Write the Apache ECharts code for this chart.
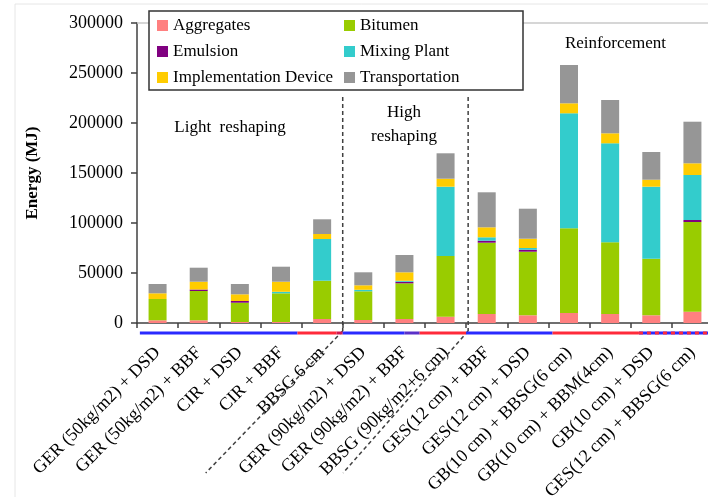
<!DOCTYPE html>
<html><head><meta charset="utf-8">
<script src="https://cdn.jsdelivr.net/npm/echarts@6/dist/echarts.min.js"></script>
<style>html,body{margin:0;padding:0;background:#fff}#c{width:708px;height:497px}</style>
</head><body><div id="c"></div>
<script>
const categories = [
  "GER (50kg/m2) + DSD", "GER (50kg/m2) + BBF", "CIR + DSD", "CIR + BBF", "BBSG 6 cm",
  "GER (90kg/m2) + DSD", "GER (90kg/m2) + BBF", "BBSG (90kg/m2+6 cm)",
  "GES(12 cm) + BBF", "GES(12 cm) + DSD", "GB(10 cm) + BBSG(6 cm)", "GB(10 cm) + BBM(4cm)",
  "GB(10 cm) + DSD", "GES(12 cm) + BBSG(6 cm)"
];
const aggregates     = [2700, 2700, 1000, 1000, 4000, 3000, 4000, 6300, 9000, 7700, 10000, 9000, 7700, 11300];
const bitumen        = [21300, 29300, 19300, 28700, 38300, 28700, 35700, 60700, 71300, 63600, 84700, 71700, 56600, 89700];
const emulsion       = [0, 1500, 1700, 0, 0, 0, 1500, 0, 2000, 2000, 0, 0, 0, 2000];
const mixingPlant    = [0, 0, 0, 1500, 41700, 1500, 1000, 69300, 3400, 1700, 115000, 99000, 72000, 45000];
const implementation = [5700, 7800, 6700, 10100, 5000, 4500, 8500, 8000, 10000, 9300, 10000, 10000, 7000, 11700];
const transportation = [9300, 14000, 10300, 15000, 14700, 13000, 17300, 25400, 35000, 30000, 38300, 33300, 27700, 41600];
const yTicks = { min: 0, max: 300000, interval: 50000 };

const seriesNames = ["Aggregates", "Bitumen", "Emulsion", "Mixing Plant", "Implementation Device", "Transportation"];
const seriesData = [aggregates, bitumen, emulsion, mixingPlant, implementation, transportation];
const colors = ["#FF8080", "#99CC00", "#800080", "#33CCCC", "#FFCC00", "#969696"];

const FONT = "Liberation Serif";
const chart = echarts.init(document.getElementById('c'));

const legendBase = {
  orient: 'vertical', icon: 'rect', itemWidth: 11, itemHeight: 11, itemGap: 9, z: 5, padding: 0,
  selectedMode: false,
  textStyle: { fontFamily: FONT, fontSize: 17, color: '#000', lineHeight: 17 }
};

chart.setOption({
  animation: false,
  color: colors,
  grid: { left: 137, top: 23, width: 576, height: 300, containLabel: false, outerBoundsMode: 'none' },
  legend: [
    Object.assign({}, legendBase, { left: 157, top: 17, data: ["Aggregates", "Emulsion", "Implementation Device"] }),
    Object.assign({}, legendBase, { left: 344, top: 17, data: ["Bitumen", "Mixing Plant", "Transportation"] })
  ],
  xAxis: {
    type: 'category', data: categories,
    axisLine: { lineStyle: { color: '#404040', width: 1.5 } },
    axisTick: { show: true, length: 5, lineStyle: { color: '#404040', width: 1.5 } },
    axisLabel: { interval: 0, rotate: 45, margin: 27, fontFamily: FONT, fontSize: 18, color: '#000' }
  },
  yAxis: {
    type: 'value', min: yTicks.min, max: yTicks.max, interval: yTicks.interval,
    splitLine: { show: false },
    axisLine: { show: true, lineStyle: { color: '#404040', width: 1.5 } },
    axisTick: { show: true, length: 6, lineStyle: { color: '#404040', width: 1.5 } },
    axisLabel: { margin: 14, fontFamily: FONT, fontSize: 18, color: '#000', formatter: v => String(v) }
  },
  series: seriesNames.map((n, i) => ({
    name: n, type: 'bar', stack: 'total', barWidth: 18, data: seriesData[i],
    itemStyle: { color: colors[i] }
  }))
});

// decorations positioned via the axes
const c0 = chart.convertToPixel({ xAxisIndex: 0 }, categories[0]);
const c1 = chart.convertToPixel({ xAxisIndex: 0 }, categories[1]);
const step = c1 - c0;
const xu = u => c0 - step / 2 + u * step;
const yv = v => chart.convertToPixel({ yAxisIndex: 0 }, v);
const y0 = yv(0), yTop = yv(yTicks.max);

const g = [];
// image frame faint lines
g.push({ type: 'line', z: 0, shape: { x1: 15, y1: 4, x2: 708, y2: 4 }, style: { stroke: '#e6e6e6', lineWidth: 1 } });
g.push({ type: 'line', z: 0, shape: { x1: 15, y1: 4, x2: 15, y2: 497 }, style: { stroke: '#e6e6e6', lineWidth: 1 } });
// plot top border
g.push({ type: 'line', z: 1, shape: { x1: xu(0), y1: yTop, x2: 708, y2: yTop }, style: { stroke: '#c8c8c8', lineWidth: 1.5 } });
// legend box
g.push({ type: 'rect', z: 3, shape: { x: 149, y: 11, width: 374, height: 79 }, style: { fill: '#fff', stroke: '#333', lineWidth: 1.5 } });

// dashed separators
[5, 8].forEach((b, k) => {
  const x = xu(b) + (k === 1 ? 2 : 0);
  g.push({ type: 'line', z: 2, shape: { x1: x, y1: yv(226000), x2: x, y2: y0 + 8 }, style: { stroke: '#404040', lineWidth: 1.5, lineDash: [4, 3] } });
  g.push({ type: 'line', z: 2, shape: { x1: x, y1: y0 + 8, x2: x - (k === 0 ? 137 : 125), y2: y0 + 150 }, style: { stroke: '#404040', lineWidth: 1.5, lineDash: [4, 3] } });
});

// colored bands under axis
const bandY = y0 + 10;
const bands = [
  [0.07, 3.9, '#2a2aff'], [3.9, 4.85, '#ff2a3a'], [4.85, 5.0, '#d01850'],
  [5.0, 6.5, '#2a2aff'], [6.5, 6.87, '#5a30c8'], [6.87, 8.0, '#ff2a3a'],
  [8.0, 10.1, '#2a2aff'], [10.1, 12.2, '#ff2a3a'], [12.2, 14.2, '#2a2aff']
];
bands.forEach(b => g.push({ type: 'line', z: 2, shape: { x1: xu(b[0]), y1: bandY, x2: xu(b[1]), y2: bandY }, style: { stroke: b[2], lineWidth: 3 } }));
g.push({ type: 'line', z: 3, shape: { x1: xu(12.2), y1: bandY, x2: xu(14.2), y2: bandY }, style: { stroke: '#ff2a3a', lineWidth: 3, lineDash: [4, 4] } });

// group labels
const txt = (s, u, v) => ({ type: 'text', z: 4, x: xu(u), y: yv(v), style: { text: s, fontFamily: FONT, fontSize: 17, fill: '#000', textAlign: 'center', textVerticalAlign: 'middle' } });
g.push(txt('Light  reshaping', 2.26, 195000));
g.push(txt('High', 6.49, 210000));
g.push(txt('reshaping', 6.49, 186000));
g.push(txt('Reinforcement', 11.63, 279000));

// y axis name
g.push({ type: 'text', z: 4, x: 33, y: (y0 + yTop) / 2, rotation: Math.PI / 2, style: { text: 'Energy (MJ)', fontFamily: FONT, fontWeight: 'bold', fontSize: 17, fill: '#000', textAlign: 'center', textVerticalAlign: 'middle' } });

chart.setOption({ graphic: g });
</script></body></html>
